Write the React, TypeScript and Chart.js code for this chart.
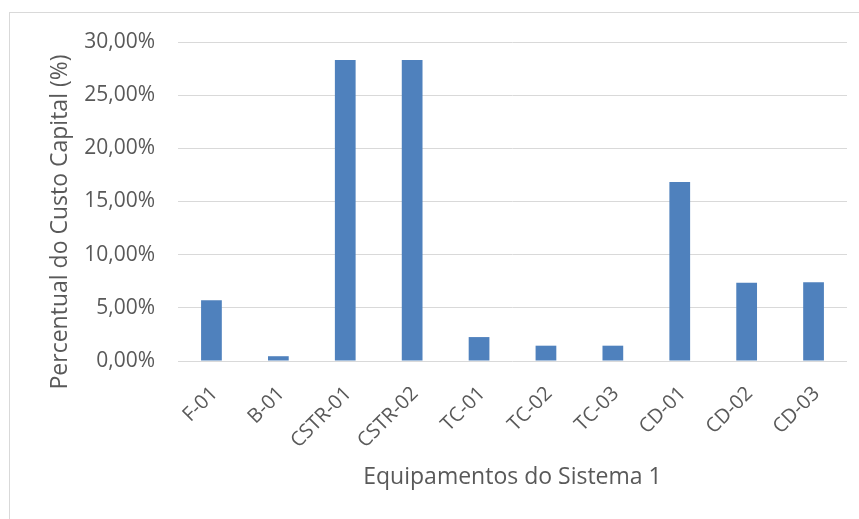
import React, { useEffect, useRef } from "react";
import { Chart, registerables } from "chart.js";

Chart.register(...registerables);

const categories = ["F-01", "B-01", "CSTR-01", "CSTR-02", "TC-01", "TC-02", "TC-03", "CD-01", "CD-02", "CD-03"];
const percentValues = [5.72, 0.45, 28.3, 28.3, 2.25, 1.44, 1.44, 16.84, 7.35, 7.4];
const yTicksMin = 0;
const yTicksMax = 30;
const yTicksStep = 5;
const xTitle = "Equipamentos do Sistema 1";
const yTitle = "Percentual do Custo Capital (%)";

const FONT = "'Open Sans', sans-serif";
const TEXT = "#595959";

const yTitlePlugin = {
  id: "yTitlePlugin",
  afterDraw(chart: any) {
    const ctx = chart.ctx;
    ctx.save();
    ctx.translate(60, 222);
    ctx.rotate(-Math.PI / 2);
    ctx.font = `23px ${FONT}`;
    ctx.fillStyle = TEXT;
    ctx.textAlign = "center";
    ctx.textBaseline = "middle";
    ctx.fillText(yTitle, 0, 0);
    ctx.restore();
  },
};

export default function App() {
  const ref = useRef<HTMLCanvasElement>(null);
  useEffect(() => {
    if (!ref.current) return;
    const chart = new Chart(ref.current, {
      type: "bar",
      data: {
        labels: categories,
        datasets: [
          {
            data: percentValues,
            backgroundColor: "#4F81BD",
            borderWidth: 0,
            categoryPercentage: 1,
            barPercentage: 0.31,
          },
        ],
      },
      options: {
        responsive: false,
        animation: false,
        layout: { padding: { left: 0, right: 12, top: 42, bottom: 0 } },
        plugins: { legend: { display: false }, tooltip: { enabled: false } },
        scales: {
          x: {
            grid: { display: false, drawTicks: false },
            border: { display: false },
            ticks: {
              color: TEXT,
              font: { family: FONT, size: 20 },
              minRotation: 45,
              maxRotation: 45,
              autoSkip: false,
              padding: 21,
              labelOffset: 3,
            },
            title: {
              display: true,
              text: xTitle,
              color: TEXT,
              font: { family: FONT, size: 23 },
              padding: { top: 0, bottom: 28 },
            },
            afterFit: (scale: any) => {
              scale.height = 519 - 361;
            },
          },
          y: {
            min: yTicksMin,
            max: yTicksMax,
            grid: { color: "#d9d9d9", lineWidth: 1, drawTicks: false },
            border: { display: false },
            ticks: {
              stepSize: yTicksStep,
              color: TEXT,
              font: { family: FONT, size: 21 },
              padding: 23,
              callback: (v: any) => Number(v).toFixed(2).replace(".", ",") + "%",
            },
            afterFit: (scale: any) => {
              scale.width = 178;
            },
          },
        },
      },
      plugins: [yTitlePlugin],
    });
    return () => chart.destroy();
  }, []);
  return (
    <div style={{ position: "fixed", left: 0, top: 0, width: 859, height: 519, background: "#fff", overflow: "hidden" }}>
      <div
        style={{
          position: "absolute",
          left: 9,
          top: 12,
          width: 880,
          height: 540,
          border: "1px solid #d9d9d9",
          boxSizing: "border-box",
        }}
      />
      <canvas ref={ref} width={859} height={519} style={{ position: "absolute", left: 0, top: 0 }} />
    </div>
  );
}
